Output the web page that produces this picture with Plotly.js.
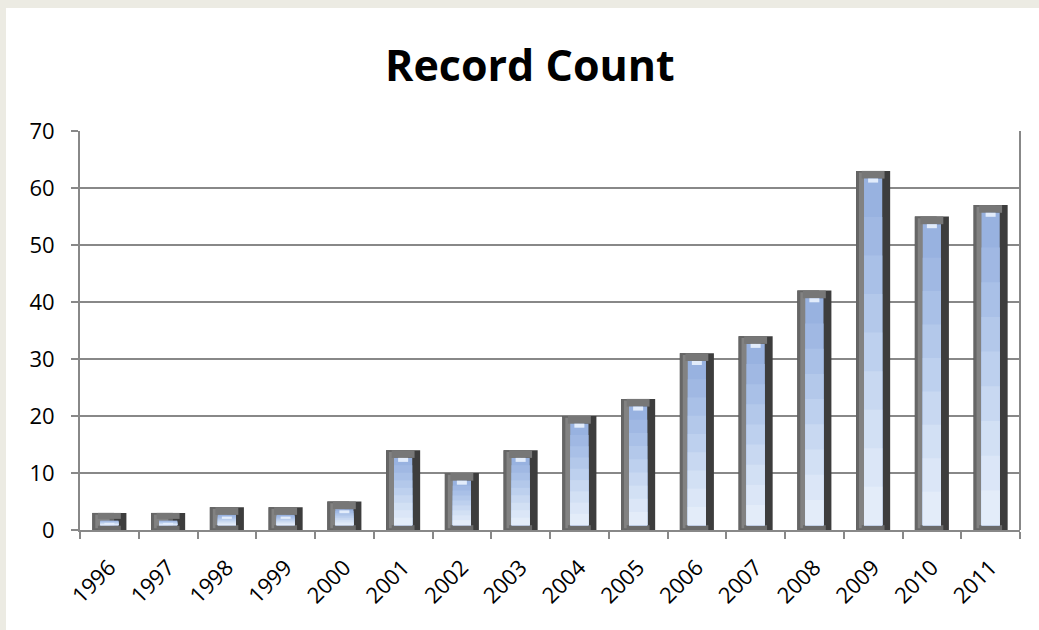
<!DOCTYPE html>
<html>
<head>
<meta charset="utf-8">
<script src="https://cdn.plot.ly/plotly-3.0.1.min.js"></script>
<style>
  html, body { margin: 0; padding: 0; width: 1039px; height: 630px; overflow: hidden;
    background: #ecebe3; }
  #panel { position: absolute; left: 6px; top: 8px; width: 1033px; height: 622px; background: #ffffff; }
  #chart { position: absolute; left: 0; top: 0; width: 1039px; height: 630px; }
</style>
</head>
<body>
<div id="panel"></div>
<div id="chart"></div>
<script>
const years = ['1996','1997','1998','1999','2000','2001','2002','2003','2004','2005','2006','2007','2008','2009','2010','2011'];
const recordCount = [3, 3, 4, 4, 5, 14, 10, 14, 20, 23, 31, 34, 42, 63, 55, 57];
const yTicks = [0, 10, 20, 30, 40, 50, 60, 70];

// bevel styling (visual only)
const BAR_W = 0.58, INNER_W = 0.31, TOP_IN = 1.35, BOT_IN = 0.85;
const innerColors = ['#98b2e0', '#a0b8e3', '#a9c0e7', '#b3c8ea', '#bdd0ee', '#c8d8f1', '#d2e0f4', '#dbe6f7', '#e3ecf9'];

function seg(opts) {
  return Object.assign({
    type: 'bar', x: years, hoverinfo: 'skip', showlegend: false
  }, opts);
}

const traces = [];
// outer dark body (the actual value)
traces.push(seg({
  y: recordCount, width: years.map(() => BAR_W),
  marker: { color: '#3d3d3d', line: { width: 0 } }, name: 'Record Count', hoverinfo: 'x+y'
}));
// lighter left bevel
traces.push(seg({
  y: recordCount, offset: -BAR_W / 2, width: years.map(() => BAR_W * 0.64),
  marker: { color: '#666666', line: { width: 0 } }
}));
traces.push(seg({
  y: recordCount.map(v => Math.max(v - 0.6, 0.05)), base: recordCount.map(() => 0.3),
  offset: -BAR_W / 2 + 0.05, width: years.map(() => BAR_W * 0.42),
  marker: { color: '#828282', line: { width: 0 } }
}));
// top bevel band
traces.push(seg({
  y: recordCount.map(v => Math.min(TOP_IN, v * 0.35)),
  base: recordCount.map(v => v - Math.min(TOP_IN, v * 0.35)),
  width: years.map(() => INNER_W + 0.08),
  marker: { color: '#777777', line: { width: 0 } }
}));
// bottom bevel band
traces.push(seg({
  y: recordCount.map(v => Math.min(BOT_IN, v * 0.25)), base: recordCount.map(() => 0),
  width: years.map(() => INNER_W + 0.08),
  marker: { color: '#6a6a6a', line: { width: 0 } }
}));
// inner blue face with vertical gradient
innerColors.forEach((c, i) => {
  const frac = 1 - i / innerColors.length;
  traces.push(seg({
    y: recordCount.map(v => {
      const top = Math.max(v - TOP_IN, BOT_IN + 0.2);
      return Math.max((top - BOT_IN) * frac, 0.05);
    }),
    base: recordCount.map(() => BOT_IN),
    width: years.map(() => INNER_W),
    marker: { color: c, line: { width: 0 } }
  }));
});
// top highlight tip
traces.push(seg({
  y: recordCount.map(v => Math.min(0.7, v * 0.1)),
  base: recordCount.map(v => Math.max(v - TOP_IN - 0.7, BOT_IN)),
  width: years.map(() => INNER_W * 0.55),
  marker: { color: '#e2ecfb', line: { width: 0 } }
}));

const tickFont = { family: 'Open Sans, sans-serif', size: 22, color: '#000000' };

const layout = {
  width: 1039, height: 630,
  paper_bgcolor: 'rgba(0,0,0,0)',
  plot_bgcolor: 'rgba(0,0,0,0)',
  barmode: 'overlay',
  margin: { l: 80, r: 19, t: 131, b: 100 },
  title: {
    text: '<b>Record Count</b>',
    font: { family: 'Open Sans, sans-serif', size: 43, color: '#000000' },
    x: 0.51, xanchor: 'center', y: 0.895, yanchor: 'middle'
  },
  font: tickFont,
  xaxis: {
    type: 'category',
    tickson: 'boundaries',
    ticks: 'outside', ticklen: 7, tickcolor: '#888888', tickwidth: 2,
    tickangle: -45,
    ticklabelstandoff: 14,
    showline: true, linecolor: '#888888', linewidth: 2,
    showgrid: false,
    tickfont: tickFont
  },
  yaxis: {
    range: [0, 70],
    tickvals: yTicks,
    ticktext: yTicks.map(String),
    ticks: 'outside', ticklen: 7, tickcolor: '#888888', tickwidth: 2,
    showline: true, linecolor: '#888888', linewidth: 2,
    showgrid: true, gridcolor: '#888888', gridwidth: 2,
    zeroline: false,
    ticklabelstandoff: 12,
    tickfont: tickFont
  },
  shapes: [
    { type: 'line', xref: 'paper', yref: 'paper', x0: 1, x1: 1, y0: 0, y1: 1,
      line: { color: '#888888', width: 2 } }
  ]
};

Plotly.newPlot('chart', traces, layout, { displayModeBar: false, staticPlot: true });
</script>
</body>
</html>
